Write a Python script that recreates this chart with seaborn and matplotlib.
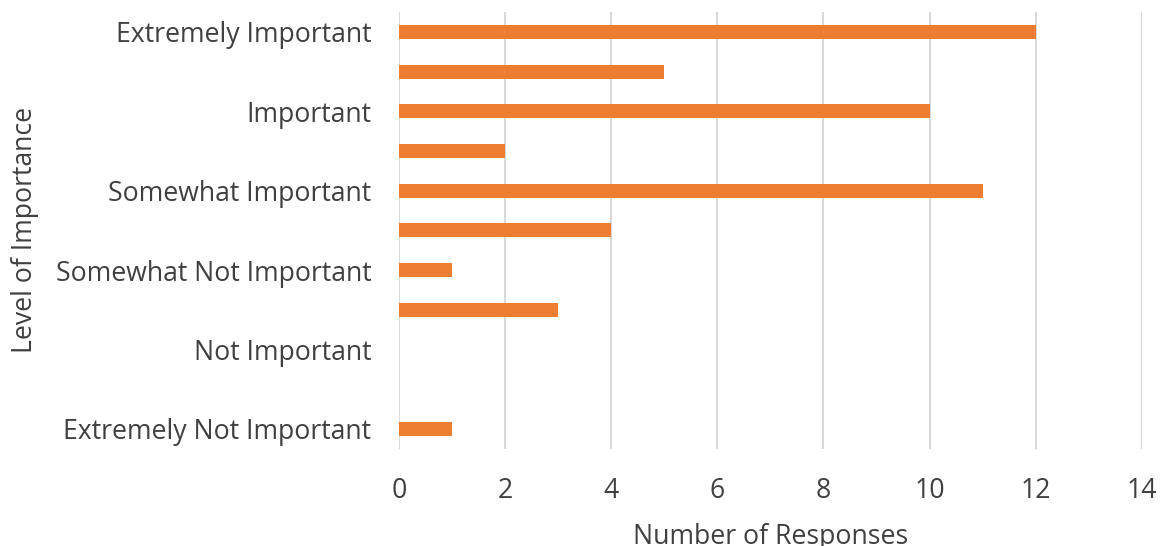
import matplotlib
matplotlib.use("Agg")
import matplotlib.pyplot as plt
import seaborn as sns
import pandas as pd

# Rating scale, top to bottom; only every other step carries a text label
levels = ["L10", "L9", "L8", "L7", "L6", "L5", "L4", "L3", "L2", "L1", "L0"]
level_labels = ["Extremely Important", "", "Important", "", "Somewhat Important", "",
                "Somewhat Not Important", "", "Not Important", "", "Extremely Not Important"]
responses = [12, 5, 10, 2, 11, 4, 1, 3, 0, 0, 1]
x_ticks = [0, 2, 4, 6, 8, 10, 12, 14]

df = pd.DataFrame({"level": levels, "responses": responses})

sns.set_theme(style="white")
plt.rcParams["font.family"] = ["Open Sans", "DejaVu Sans"]

text_color = "#404040"
fs = 19.2
fig = plt.figure(figsize=(11.65, 5.46), dpi=100)
ax = fig.add_axes([0.3425, 0.178, 0.6375, 0.80])

sns.barplot(data=df, x="responses", y="level", order=levels, orient="h",
            color="#ED7D31", saturation=1, width=0.35, linewidth=0, ax=ax)

ax.set_xlim(0, 14)
ax.set_xticks(x_ticks)
ax.set_xticklabels([str(t) for t in x_ticks], fontsize=fs, color=text_color)
ax.set_yticks(range(len(levels)))
ax.set_yticklabels(level_labels, fontsize=fs, color=text_color)
ax.tick_params(axis="both", length=0)
ax.tick_params(axis="x", pad=20)
ax.tick_params(axis="y", pad=20)

ax.grid(axis="x", color="#D9D9D9", linewidth=1.5)
ax.set_axisbelow(True)
for s in ax.spines.values():
    s.set_visible(False)

ax.set_xlabel("Number of Responses", fontsize=fs, color=text_color, labelpad=12)
ax.set_ylabel("Level of Importance", fontsize=fs, color=text_color)
ax.yaxis.set_label_coords(-0.503, 0.5)
ax.xaxis.set_label_coords(0.5, -0.203)
ax.xaxis.label.set_va("center")
ax.yaxis.label.set_va("center")

fig.savefig("out.png", dpi=100, facecolor="white")
